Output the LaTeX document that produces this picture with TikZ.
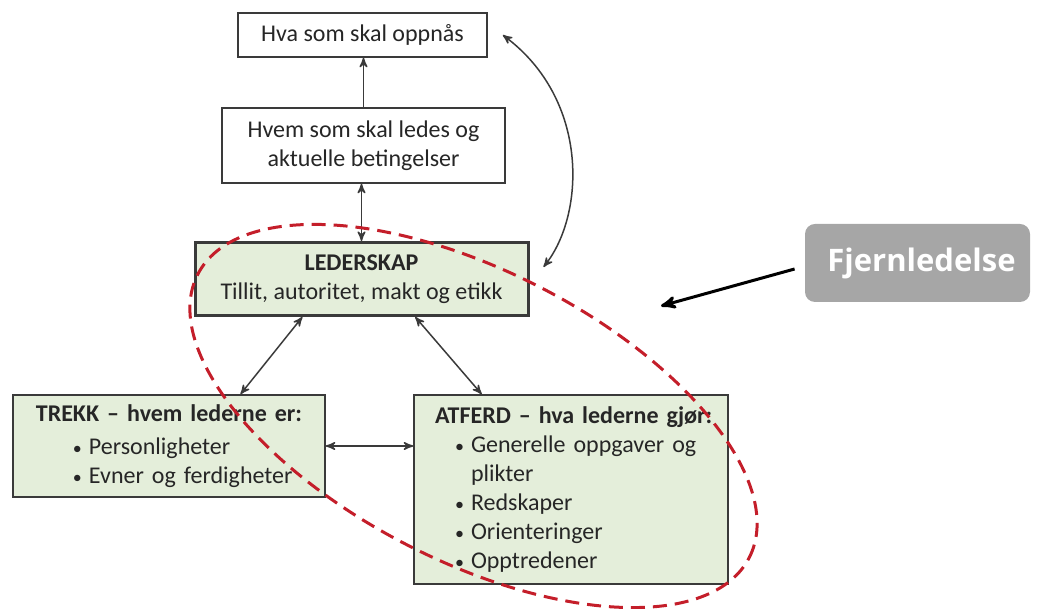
\documentclass[tikz,border=0pt]{standalone}
\usepackage{fontspec}
\setmainfont{Carlito}
\newfontfamily\fjernfont{Open Sans}
\usetikzlibrary{calc}
\usetikzlibrary{arrows}

\definecolor{boksgronn}{RGB}{228,238,218}
\definecolor{kant}{RGB}{58,58,58}
\definecolor{rodstrek}{RGB}{196,30,42}
\definecolor{graboks}{RGB}{166,166,166}

\newcommand{\punkt}[2]{\hspace*{#1}\makebox[8pt][l]{\scalebox{0.75}{\textbullet}}\mbox{#2}}

\begin{document}
\begin{tikzpicture}[x=0.5pt,y=0.5pt,
  boks/.style={draw=kant, line width=0.75pt, fill=white, inner sep=0pt, align=center,
    text=black!85, font=\fontsize{12}{14.5}\selectfont},
  gronnboks/.style={boks, fill=boksgronn},
  pil/.style={draw=kant, line width=0.75pt, >=stealth'},
  pilsvart/.style={draw=black, line width=1.5pt, ->, >=stealth'},
  rodstiplet/.style={draw=rodstrek, line width=1.5pt, dash pattern=on 7pt off 4pt}]
\useasboundingbox (0,0) rectangle (1041,609);

\node[boks, minimum width=124.5pt, minimum height=22pt] (hva) at (362.5,574) {Hva som skal oppnås};
\node[boks, minimum width=141.5pt, minimum height=37.5pt] (hvem) at (363.5,463.5) {Hvem som skal ledes og\\aktuelle betingelser};
\node[gronnboks, line width=1.5pt, minimum width=166.5pt, minimum height=36.5pt] (leder) at (361.5,330)
  {\textbf{LEDERSKAP}\\Tillit, autoritet, makt og etikk};
\node[gronnboks, minimum width=156pt, minimum height=51pt, text width=136pt, align=left] (trekk) at (169,163)
  {\makebox[136pt]{\textbf{TREKK – hvem lederne er:}}\\[2pt]
   \punkt{20pt}{Personligheter}\\
   \punkt{20pt}{Evner og ferdigheter}};
\node[gronnboks, minimum width=157pt, minimum height=94.5pt, text width=136pt, align=left] (atferd) at (571,119.5)
  {\makebox[136pt][l]{\textbf{ATFERD – hva lederne gjør:}}\\
   \punkt{10pt}{Generelle oppgaver og}\\
   \hspace*{18pt}plikter\\
   \punkt{10pt}{Redskaper}\\
   \punkt{10pt}{Orienteringer}\\
   \punkt{10pt}{Opptredener}};
\node[fill=graboks, rounded corners=5pt, minimum width=112.5pt, minimum height=39pt, text=white,
  font=\fjernfont\fontsize{15.5}{18}\selectfont\bfseries] (fjern) at (917.5,346) {\hspace*{4pt}Fjernledelse};
\coordinate (maal) at (661,303);

\draw[pil,->] (hvem.north) -- (hvem.north |- hva.south);
\draw[pil,<->] (leder.north) -- (leder.north |- hvem.south);
\draw[pil,<->] ($(leder.south west)!0.324!(leder.south east)$) -- ($(trekk.north west)!0.728!(trekk.north east)$);
\draw[pil,<->] ($(leder.south west)!0.66!(leder.south east)$) -- ($(atferd.north west)!0.217!(atferd.north east)$);
\draw[pil,<->] (trekk.east) -- (trekk.east -| atferd.west);
\draw[pil,<->] ([xshift=7.5pt]hva.east) .. controls (590,509) and (585,394) .. ([xshift=7pt,yshift=6pt]leder.east);
\draw[pilsvart] ([xshift=-5pt,yshift=-3pt]fjern.west) -- (maal);

\draw[rodstiplet, rotate around={-27.2:(473.5,193)}] (473.5,193) ellipse (155pt and 72.5pt);
\end{tikzpicture}
\end{document}
